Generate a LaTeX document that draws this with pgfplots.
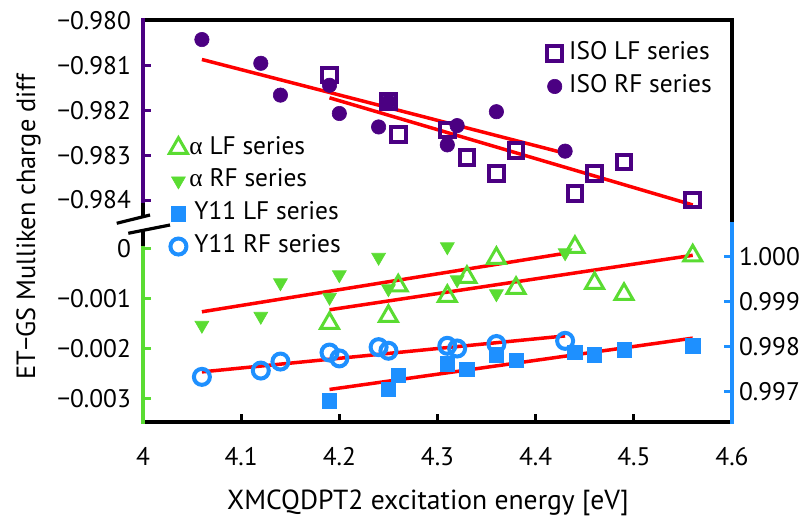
\documentclass[border=0pt]{standalone}
\usepackage{fontspec}
\setmainfont{PT Sans}
\newfontfamily\grk{Liberation Serif}
\usepackage{pgfplots}
\pgfplotsset{compat=1.18}
\definecolor{isop}{RGB}{75,0,130}
\definecolor{agreen}{RGB}{90,220,50}
\definecolor{yblue}{RGB}{30,144,255}
\pgfplotsset{
  base/.style={scale only axis, width=294.5pt, height=201pt,
    at={(71.5pt,47.5pt)}, anchor=south west, xmin=4, xmax=4.6,
    axis line style={draw=none}, tick align=inside, major tick length=4pt,
    clip=false, scaled ticks=false,
    tick label style={font=\fontsize{12.7}{15}\selectfont},
    legend style={draw=none, fill=none, font=\fontsize{12.7}{15}\selectfont,
      nodes={inner sep=1pt, text height=9pt, text depth=3pt, anchor=west},
      row sep=2.4pt, legend cell align=left},
    legend image code/.code={\draw[mark repeat=2,mark phase=2,##1] plot coordinates {(0pt,0pt) (5pt,0pt) (10pt,0pt)};},
  },
  fit/.style={red, line width=1.75pt, no markers, forget plot},
}
\begin{document}
\begin{tikzpicture}
\useasboundingbox (0,0) rectangle (403.5pt,258.5pt);
% ---------- top section: ISO ----------
\begin{axis}[base, ymin=-0.9889516, ymax=-0.979984, xtick=\empty,
  ytick={-0.984,-0.983,-0.982,-0.981,-0.980},
  yticklabels={−0.984,−0.983,−0.982,−0.981,−0.980},
  ytick pos=left, y tick style={isop, line width=1.5pt},
  yticklabel style={xshift=-2.5pt},
  legend style={at={(0.98,0.962)}, anchor=north east}]
\addplot[fit] coordinates {(4.06,-0.980865) (4.43,-0.982958)};
\addplot[fit] coordinates {(4.19,-0.98172) (4.56,-0.98411)};
\addplot[only marks, mark=square, mark size=3.7pt, isop, line width=2pt] coordinates {
(4.19,-0.98121) (4.25,-0.98181) (4.26,-0.98254) (4.31,-0.98244) (4.33,-0.98305)
(4.36,-0.98341) (4.38,-0.98289) (4.44,-0.98385) (4.46,-0.98341) (4.49,-0.98315) (4.56,-0.98400)};
\addlegendentry{\hspace{2.5pt}ISO LF series}
\addplot[only marks, mark=*, mark size=3.6pt, isop, fill=isop, line width=0.3pt] coordinates {
(4.06,-0.98042) (4.12,-0.98095) (4.14,-0.98166) (4.19,-0.98144) (4.20,-0.98207)
(4.24,-0.98237) (4.25,-0.98181) (4.31,-0.98277) (4.32,-0.98234) (4.36,-0.98203) (4.43,-0.98291)};
\addlegendentry{\hspace{2.5pt}ISO RF series}
\end{axis}
% ---------- bottom section: alpha (left axis) ----------
\begin{axis}[base, ymin=-0.003474, ymax=0.004566,
  xtick={4,4.1,4.2,4.3,4.4,4.5,4.6}, xticklabels={4,4.1,4.2,4.3,4.4,4.5,4.6},
  xtick pos=bottom, x tick style={black, line width=1.5pt},
  xticklabel style={yshift=-9pt},
  ytick={-0.003,-0.002,-0.001,0}, yticklabels={−0.003,−0.002,−0.001,0},
  ytick pos=left, y tick style={agreen, line width=1.5pt},
  yticklabel style={xshift=-2.5pt},
  legend style={at={(0.034,0.727)}, anchor=north west}]
\addplot[fit] coordinates {(4.06,-0.00127) (4.43,-0.00010)};
\addplot[fit] coordinates {(4.19,-0.00123) (4.56,-0.00014)};
\addplot[only marks, mark=triangle, mark size=5.2pt, agreen, line width=1.5pt] coordinates {
(4.19,-0.00150) (4.25,-0.00136) (4.26,-0.00075) (4.31,-0.00096) (4.33,-0.00058)
(4.36,-0.00020) (4.38,-0.00080) (4.44,0.00002) (4.46,-0.00070) (4.49,-0.00092) (4.56,-0.00015)};
\addlegendentry{{\grk α} LF series}
\addplot[only marks, mark=triangle*, mark size=4pt, mark options={rotate=180}, agreen, fill=agreen, line width=0.3pt] coordinates {
(4.06,-0.00154) (4.12,-0.00136) (4.14,-0.00069) (4.19,-0.00098) (4.20,-0.00053)
(4.24,-0.00018) (4.25,-0.00081) (4.31,0.00003) (4.32,-0.00063) (4.36,-0.00091) (4.43,-0.00009)};
\addlegendentry{{\grk α} RF series}
\addlegendimage{only marks, mark=square*, mark size=3.6pt, yblue, fill=yblue, line width=0.3pt}
\addlegendentry{\hspace{2.5pt}Y11 LF series}
\addlegendimage{only marks, mark=o, mark size=4pt, yblue, line width=2pt}
\addlegendentry{\hspace{2.5pt}Y11 RF series}
\end{axis}
% ---------- bottom section: Y11 (right axis) ----------
\begin{axis}[base, ymin=0.996327, ymax=1.005260, xtick=\empty,
  ytick={0.997,0.998,0.999,1.000}, yticklabels={0.997,0.998,0.999,1.000},
  ytick pos=right, yticklabel pos=right, y tick style={yblue, line width=1.5pt}]
\addplot[fit] coordinates {(4.06,0.99744) (4.43,0.99824)};
\addplot[fit] coordinates {(4.19,0.99705) (4.56,0.99819)};
\addplot[only marks, mark=square*, mark size=3.6pt, yblue, fill=yblue, line width=0.3pt] coordinates {
(4.19,0.99680) (4.25,0.99705) (4.26,0.99736) (4.31,0.99762) (4.33,0.99750)
(4.36,0.99782) (4.38,0.99770) (4.44,0.99787) (4.46,0.99782) (4.49,0.99793) (4.56,0.99802)};
\addplot[only marks, mark=o, mark size=4pt, yblue, line width=2pt] coordinates {
(4.06,0.99733) (4.12,0.99747) (4.14,0.99767) (4.19,0.99787) (4.20,0.99774)
(4.24,0.99799) (4.25,0.99791) (4.31,0.99802) (4.32,0.99796) (4.36,0.99806) (4.43,0.99813)};
\end{axis}
% ---------- frame ----------
\begin{scope}[line width=1.6pt]
\draw[black] (70.7pt,248.5pt) -- (366.8pt,248.5pt);
\draw[black] (70.7pt,47.5pt) -- (366.8pt,47.5pt);
\draw[black] (366pt,249.3pt) -- (366pt,147.5pt);
\draw[yblue] (366pt,147.5pt) -- (366pt,46.7pt);
\draw[isop] (71.5pt,249.3pt) -- (71.5pt,157pt);
\draw[black] (71.5pt,157pt) -- (71.5pt,149.5pt);
\draw[black] (71.5pt,143.5pt) -- (71.5pt,135.5pt);
\draw[agreen] (71.5pt,135.5pt) -- (71.5pt,46.7pt);
\draw[black] (58.35pt,146.85pt) -- (75pt,151pt);
\draw[black] (64.15pt,141.85pt) -- (85pt,146pt);
\end{scope}
\node[rotate=90, anchor=base, font=\fontsize{13.2}{15}\selectfont] at (17.5pt,145pt) {ET−GS Mulliken charge diff};
\node[anchor=base, font=\fontsize{13.8}{15}\selectfont] at (214pt,3.5pt) {XMCQDPT2 excitation energy [eV]};
\end{tikzpicture}
\end{document}
